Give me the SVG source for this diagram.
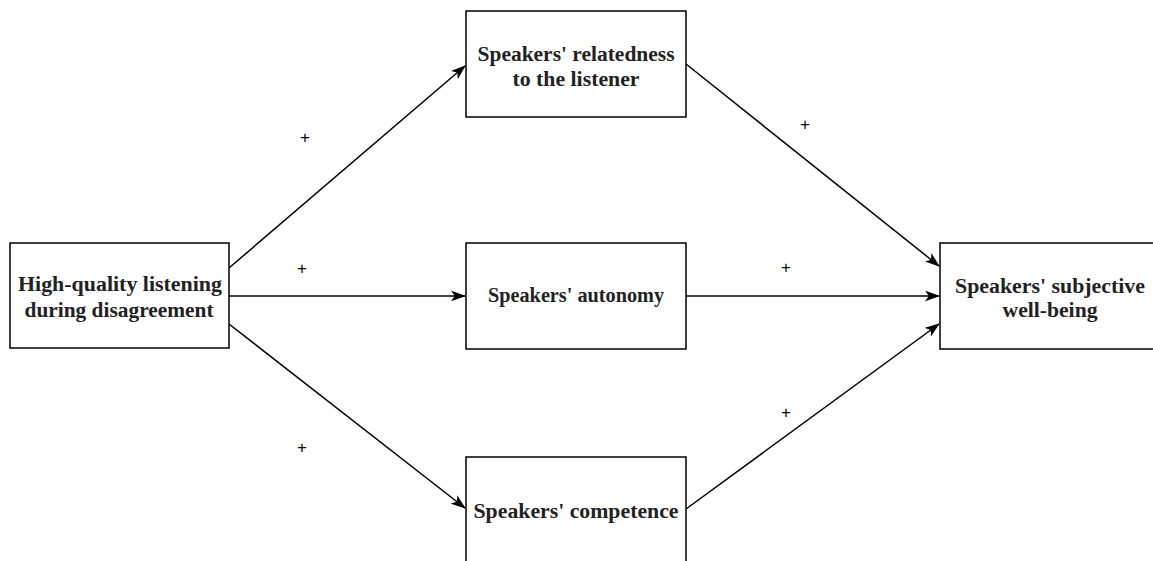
<svg xmlns="http://www.w3.org/2000/svg" width="1153" height="561" viewBox="0 0 1153 561">
<defs>
<style>
.box{fill:#fff;stroke:#000;stroke-width:1.5}
.t{font-family:"Liberation Serif","Times New Roman",serif;font-weight:bold;font-size:20px;fill:#222;text-anchor:middle}
.p{font-family:"Liberation Sans",Arial,sans-serif;font-size:17px;fill:#000;text-anchor:middle}
.c{stroke:#000;stroke-width:1.5;fill:none;marker-end:url(#ah)}
</style>
<marker id="ah" viewBox="0 0 14 10" refX="13" refY="5" markerWidth="15" markerHeight="11" markerUnits="userSpaceOnUse" orient="auto">
<path d="M0,0 L14,5 L0,10 L3.5,5 Z" fill="#000"/>
</marker>
</defs>
<rect width="1153" height="561" fill="#fff"/>
<g id="connectors">
<line class="c" x1="229" y1="268" x2="465" y2="66"/>
<line class="c" x1="229" y1="296" x2="465" y2="296"/>
<line class="c" x1="229" y1="324" x2="465" y2="508"/>
<line class="c" x1="686" y1="64" x2="939" y2="266"/>
<line class="c" x1="686" y1="296" x2="939" y2="296"/>
<line class="c" x1="686" y1="509" x2="939" y2="324"/>
</g>
<g id="labels">
<text class="p" x="305" y="143">+</text>
<text class="p" x="302" y="274">+</text>
<text class="p" x="302" y="453">+</text>
<text class="p" x="805" y="130">+</text>
<text class="p" x="786" y="273">+</text>
<text class="p" x="786" y="418">+</text>
</g>
<g id="n1">
<rect class="box" x="10" y="243" width="219" height="105"/>
<text class="t" x="120" y="291" textLength="204" lengthAdjust="spacingAndGlyphs">High-quality listening</text>
<text class="t" x="119" y="317" textLength="189" lengthAdjust="spacingAndGlyphs">during disagreement</text>
</g>
<g id="n2">
<rect class="box" x="466" y="11" width="220" height="106"/>
<text class="t" x="576" y="61" textLength="197" lengthAdjust="spacingAndGlyphs">Speakers' relatedness</text>
<text class="t" x="576" y="86" textLength="127" lengthAdjust="spacingAndGlyphs">to the listener</text>
</g>
<g id="n3">
<rect class="box" x="466" y="243" width="220" height="106"/>
<text class="t" x="576" y="302" textLength="176" lengthAdjust="spacingAndGlyphs">Speakers' autonomy</text>
</g>
<g id="n4">
<rect class="box" x="466" y="457" width="220" height="120"/>
<text class="t" x="576" y="518" textLength="205" lengthAdjust="spacingAndGlyphs">Speakers' competence</text>
</g>
<g id="n5">
<rect class="box" x="940" y="243" width="230" height="106"/>
<text class="t" x="1050" y="293" textLength="190" lengthAdjust="spacingAndGlyphs">Speakers' subjective</text>
<text class="t" x="1050" y="317" textLength="95" lengthAdjust="spacingAndGlyphs">well-being</text>
</g>
</svg>
